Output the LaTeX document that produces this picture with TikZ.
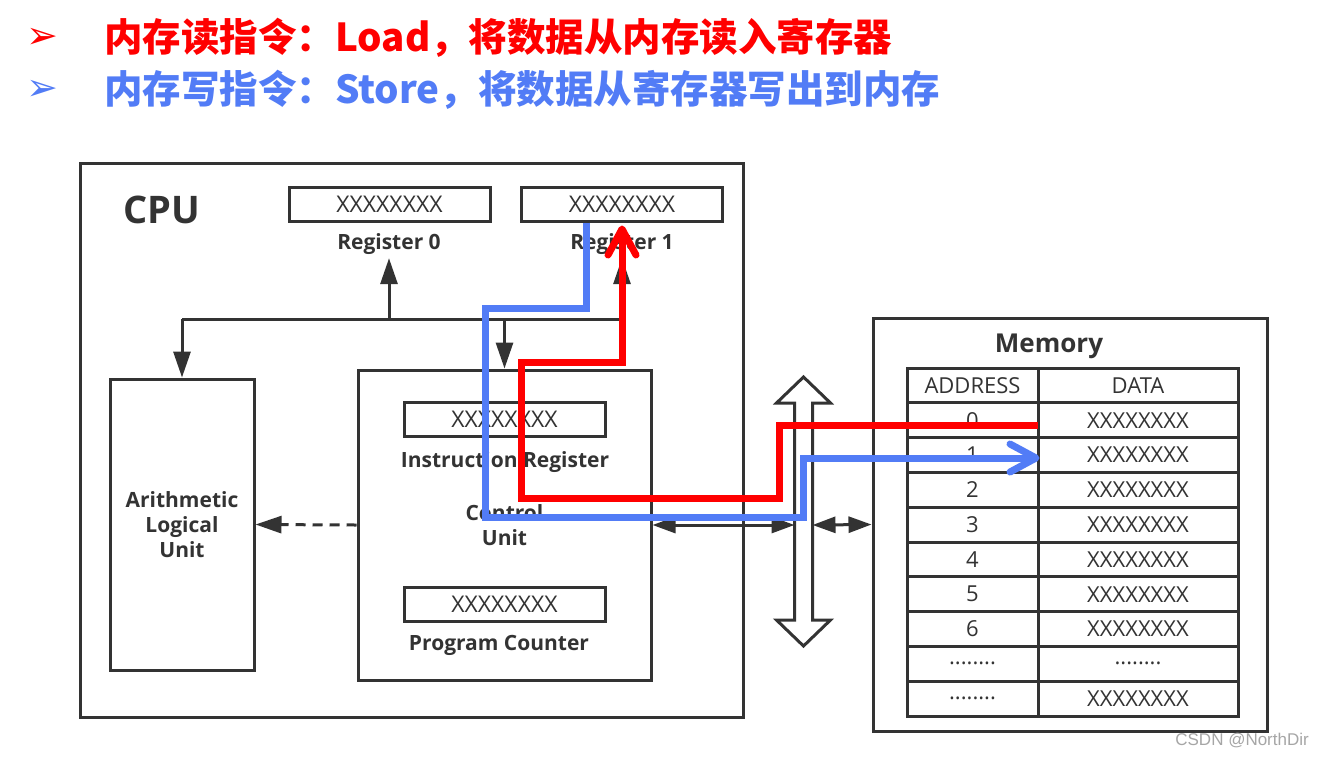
\documentclass[tikz,border=0pt]{standalone}
\usepackage{fontspec}
\setmainfont{Open Sans}
\newfontfamily\cjk{Noto Sans CJK SC}
\newfontfamily\arrowfont{DejaVu Sans}
\newfontfamily\wmfont{Liberation Sans}
\usepackage[HTML]{xcolor}
\usepackage{tikz}
\usetikzlibrary{positioning, arrows.meta}
\definecolor{loadred}{HTML}{FF0000}
\definecolor{storeblue}{HTML}{527CF6}
\definecolor{ink}{HTML}{333333}
\newcommand\pxsize[1]{\fontsize{#1}{#1}\selectfont}
\newcommand\skipdots{........}

\begin{document}
\begin{tikzpicture}[x=1pt, y=-1pt,
  box/.style={draw=ink, line width=3pt, inner sep=0pt, text=ink},
  reg/.style={box, minimum width=201pt, minimum height=34pt, font=\pxsize{23}},
  lbl/.style={font=\bfseries\pxsize{21}, text=ink, inner sep=0pt, minimum height=28pt},
  cell/.style={box, minimum height=34.8pt, font=\pxsize{22}},
  conn/.style={draw=ink, line width=3pt},
  arr/.style={conn, -{Triangle[length=26pt, width=17pt]}},
  dblarr/.style={conn, {Triangle[length=23pt, width=16pt]}-{Triangle[length=23pt, width=16pt]}},
  load/.style={draw=loadred, line width=7pt, -{Straight Barb[length=26pt, width=28pt, round]}},
  store/.style={draw=storeblue, line width=7pt, -{Straight Barb[length=26pt, width=28pt, round]}},
  bullet/.style={font=\arrowfont\pxsize{38}, inner sep=0pt},
  head/.style={anchor=west, font=\cjk\bfseries\pxsize{38.5}, inner sep=0pt}]
\fill[white] (0,0) rectangle (1324,756);
\useasboundingbox (0,0) rectangle (1324,756);

% Headline: load / store
\node[bullet, text=loadred] (bload) at (42,38) {➢};
\node[head, text=loadred] (tload) at (104,38) {内存读指令：Load，将数据从内存读入寄存器};
\node[bullet, text=storeblue] (bstore) at (42,90) {➢};
\node[head, text=storeblue] (tstore) at (104,90) {内存写指令：Store，将数据从寄存器写出到内存};

% CPU with registers
\node[box, minimum width=663pt, minimum height=554pt] (cpu) at (411.5,440) {};
\node[font=\bfseries\pxsize{38}, text=ink] (cpulbl) at (162,210) {CPU};
\node[reg] (r0) at (389.5,204) {XXXXXXXX};
\node[lbl] (r0lbl) at (389,244) {Register 0};
\node[reg] (r1) at (622,204) {XXXXXXXX};
\node[lbl] (r1lbl) at (622,244) {Register 1};

% ALU and control unit
\node[box, minimum width=144pt, minimum height=291pt, align=center,
  font=\bfseries\fontsize{21}{25}\selectfont] (alu) at (182,524.5) {Arithmetic\\Logical\\Unit};
\node[box, minimum width=293pt, minimum height=310pt, align=center,
  font=\bfseries\fontsize{21}{25}\selectfont] (cu) at (504.5,525) {Control\\Unit};
\node[reg] (ir) at (504.5,419) {XXXXXXXX};
\node[lbl] (irlbl) at (505,462) {Instruction Register};
\node[reg] (pc) at (504.5,604) {XXXXXXXX};
\node[lbl] (pclbl) at (499,645) {Program Counter};

% internal bus
\coordinate (busy) at (400,319);
\draw[conn] (alu.north |- busy) -- (r1lbl.south |- busy);
\draw[arr] (alu.north |- busy) -- (alu.north);
\draw[arr] (r0lbl.south |- busy) -- (r0lbl.south);
\draw[arr] (r1lbl.south |- busy) -- (r1lbl.south);
\draw[arr] (cu.north |- busy) -- (cu.north);
\draw[arr, dash pattern=on 10pt off 7pt] (cu.west) -- (alu.east);

% Memory table
\node[box, minimum width=394pt, minimum height=413pt] (mem) at (1070,524.5) {};
\node[font=\bfseries\pxsize{26}, text=ink] (memlbl) at (1049,346) {Memory};
\foreach \ad/\dat [count=\k from 0] in {ADDRESS/DATA, 0/XXXXXXXX, 1/XXXXXXXX,
  2/XXXXXXXX, 3/XXXXXXXX, 4/XXXXXXXX, 5/XXXXXXXX, 6/XXXXXXXX,
  \skipdots/\skipdots, \skipdots/XXXXXXXX} {
  \node[cell, minimum width=131pt] (a\k) at (972.5,385.4+34.8*\k) {\ad};
  \node[cell, minimum width=200pt] (d\k) at (1138,385.4+34.8*\k) {\dat};
}

% system bus
\draw[draw=ink, line width=3pt, fill=white] (803.5,377) -- (830.5,403) -- (812.5,403)
  -- (812.5,620) -- (830.5,620) -- (803.5,646) -- (776.5,620) -- (794.5,620)
  -- (794.5,403) -- (776.5,403) -- cycle;
\coordinate (busw) at (794.5,525);
\coordinate (buse) at (812.5,525);
\draw[dblarr] (cu.east) -- (busw);
\draw[dblarr] (buse) -- (mem.west);

% Load: memory -> register 1
\draw[load] ([yshift=-5pt, xshift=-2pt]a1.east) -| (779,498) -| (521,362) -| ([yshift=-3pt]r1.south);
% Store: register 1 -> memory
\draw[store] ([xshift=-36pt]r1.south) |- (485,308) |- (803,517) |- ([yshift=-3pt]a2.east);

\node[font=\wmfont\pxsize{17}, text=black!35, anchor=east, inner sep=0pt] (wm) at (1309,740) {CSDN @NorthDir};
\end{tikzpicture}
\end{document}
